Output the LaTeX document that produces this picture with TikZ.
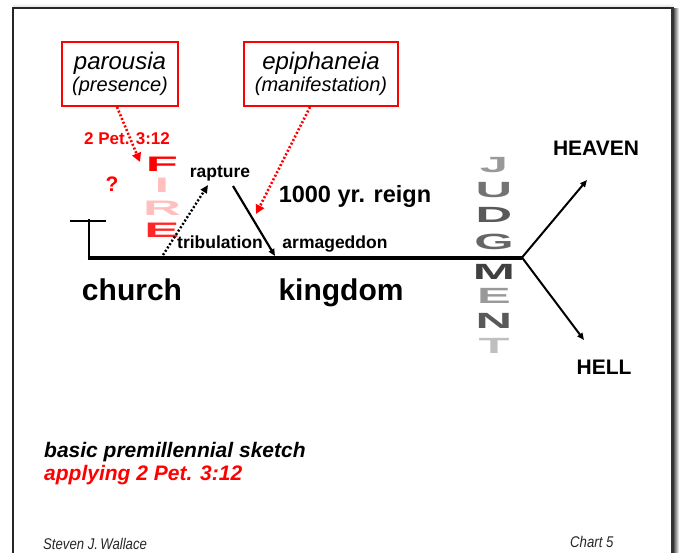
\documentclass[tikz,border=0pt]{standalone}
\usepackage{fontspec}
\setmainfont{Liberation Sans}
\usetikzlibrary{arrows.meta}
\begin{document}
\begin{tikzpicture}[x=1pt,y=-1pt,
  redbox/.style={draw=red, line width=2pt, fill=white, minimum width=116pt, minimum height=64pt, align=center, inner sep=2pt},
  lbl/.style={font=\bfseries\fontsize{17.5}{20}\selectfont, inner sep=0pt, anchor=base},
  big/.style={font=\bfseries\fontsize{30}{34}\selectfont, inner sep=0pt, anchor=base},
  fate/.style={font=\bfseries\fontsize{21}{24}\selectfont, inner sep=0pt, anchor=base},
  reddot/.style={red, line width=2.6pt, dash pattern=on 2pt off 2pt, -{Triangle[length=9pt,width=9pt]}},
  blackdot/.style={black, line width=2.4pt, dash pattern=on 2pt off 2pt, -{Triangle[length=8pt,width=7pt]}},
  solidarr/.style={black, line width=2.2pt, -{Triangle[length=7pt,width=6pt]}},
  fireletter/.style={inner sep=0pt, font=\bfseries\fontsize{21}{24}\selectfont},
  jletter/.style={inner sep=0pt, font=\bfseries\fontsize{22}{24}\selectfont},
]
\newcommand{\fw}[1]{\scalebox{2.5}[1]{#1}}
\newcommand{\jw}[1]{\scalebox{2.3}[1]{#1}}
\newcommand{\boxtext}[2]{\raisebox{-3.5pt}{\begin{tabular}{@{}c@{}}\itshape\fontsize{24}{28}\selectfont #1\\[4pt] \itshape\fontsize{20}{24}\selectfont #2\end{tabular}}}
\useasboundingbox (0,0) rectangle (679,552);
% frame with shadow
\fill[left color=black!75, right color=white] (673,8) rectangle (679,552);
\fill[top color=white, bottom color=black!15] (13,3) rectangle (673,8);
\draw[black!85, line width=1.4pt] (13,560) -- (13,8) -- (673,8);
\draw[black!80, line width=3pt] (672,7) -- (672,560);

% top boxes
\node[redbox] (par) at (120,74) {\boxtext{parousia}{(presence)}};
\node[redbox, minimum width=154pt] (epi) at (321,74) {\boxtext{epiphaneia}{(manifestation)}};

\node[red, font=\bfseries\fontsize{17}{20}\selectfont, inner sep=0pt, anchor=base] (pet) at (127,144) {2 Pet. 3:12};
\node[red, font=\bfseries\fontsize{21}{24}\selectfont, inner sep=0pt, anchor=base] (q) at (112,191) {?};

% FIRE
\node[fireletter, text=red] (f1) at (162,164.5) {\fw{F}};
\node[fireletter, text=red!25] (f2) at (162,185.5) {\fw{I}};
\node[fireletter, text=red!25] (f3) at (162,208) {\fw{R}};
\node[fireletter, text=red!85] (f4) at (162,230.5) {\fw{E}};

% JUDGMENT
\node[jletter, text=black!40] (j1) at (494,165.5) {\jw{J}};
\node[jletter, text=black!55] (j2) at (494,190.5) {\jw{U}};
\node[jletter, text=black!65] (j3) at (494,215) {\jw{D}};
\node[jletter, text=black!60] (j4) at (494,241.5) {\jw{G}};
\node[jletter, text=black!75] (j5) at (494,271.5) {\jw{M}};
\node[jletter, text=black!40] (j6) at (494,295.5) {\jw{E}};
\node[jletter, text=black!65] (j7) at (494,320.5) {\jw{N}};
\node[jletter, text=black!25] (j8) at (494,345.5) {\jw{T}};

% cross and main line
\coordinate (crossL) at (70,221);
\coordinate (crossR) at (106,221);
\coordinate (crossTop) at (89,219);
\coordinate (start) at (89,257.5);
\coordinate (junc) at (522,257.5);
\draw[line width=2pt] (crossL) -- (crossR);
\draw[line width=2.6pt] (crossTop) -- (start);
\draw[line width=4pt, line join=round] ([xshift=-1.3pt]start) -- (junc);

% rapture arrow
\coordinate (rapS) at (163,255);
\coordinate (rapE) at (208,185);
\draw[blackdot] (rapS) -- (rapE);
% armageddon arrow
\coordinate (armS) at (233,186);
\coordinate (armE) at (275,256);
\draw[solidarr] (armS) -- (armE);

% red arrows
\coordinate (parTip) at (140,162);
\draw[reddot] ([xshift=-3pt]par.south) -- (parTip);
\coordinate (epiTip) at (256,214);
\draw[reddot] ([xshift=-11pt]epi.south) -- (epiTip);

% heaven / hell
\coordinate (hv) at (587,180);
\coordinate (hl) at (584,340);
\draw[solidarr, line width=2pt] (junc) -- (hv);
\draw[solidarr, line width=2pt] (junc) -- (hl);

% labels
\node[lbl] (rap) at (220,177) {rapture};
\node[font=\bfseries\fontsize{23.5}{26}\selectfont, inner sep=0pt, anchor=base] (reign) at (355,202) {1000 yr. reign};
\node[lbl] (trib) at (220,248) {tribulation};
\node[lbl] (arm) at (335,248) {armageddon};
\node[big] (church) at (132,300) {church};
\node[big] (kingdom) at (341,300) {kingdom};
\node[fate] (heaven) at (596,155) {HEAVEN};
\node[fate] (hell) at (604,374) {HELL};

% captions
\node[font=\bfseries\itshape\fontsize{21}{24}\selectfont, inner sep=0pt, anchor=base west] (cap1) at (44,457) {basic premillennial sketch};
\node[red, font=\bfseries\itshape\fontsize{21}{24}\selectfont, inner sep=0pt, anchor=base west] (cap2) at (44,480) {applying 2 Pet. 3:12};
\node[font=\itshape\fontsize{15.5}{18}\selectfont, inner sep=0pt, anchor=base west, text=black!85] (auth) at (43,549) {\scalebox{0.85}[1]{Steven J.\,Wallace}};
\node[font=\itshape\fontsize{15.5}{18}\selectfont, inner sep=0pt, anchor=base west, text=black!85] (chart) at (570,547) {\scalebox{0.85}[1]{Chart 5}};
\end{tikzpicture}
\end{document}
